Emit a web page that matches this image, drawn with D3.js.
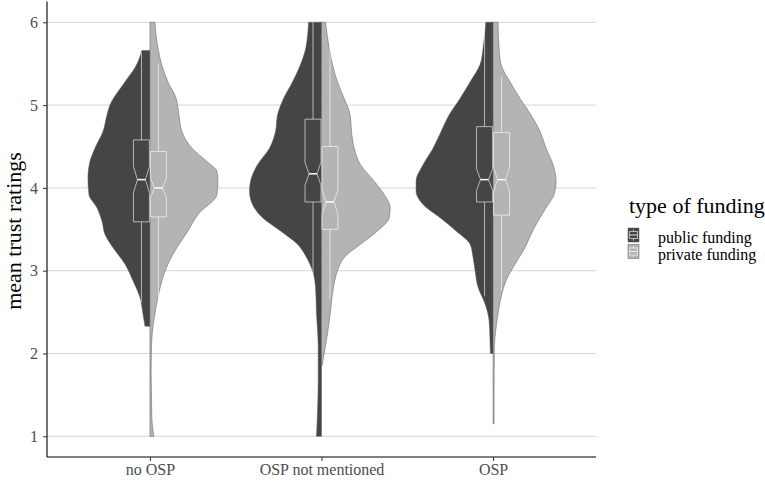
<!DOCTYPE html>
<html>
<head>
<meta charset="utf-8">
<script src="https://cdn.jsdelivr.net/npm/d3@7"></script>
<style>
body{margin:0;background:#fff}
text{font-family:"Liberation Serif","Times New Roman",serif}
</style>
</head>
<body>
<svg id="chart"></svg>
<script>
// categories and groups
var categories = ["no OSP", "OSP not mentioned", "OSP"];
var fundingTypes = ["public funding", "private funding"];
var yTicks = [1, 2, 3, 4, 5, 6];

// violin half densities: [rating, density]
var noOspPublic = [[2.33,.05],[2.48,.07],[2.68,.10],[2.88,.17],[3.08,.25],[3.28,.37],[3.44,.45],[3.6,.48],[3.76,.53],[3.92,.61],[4.12,.62],[4.32,.60],[4.48,.55],[4.68,.47],[4.88,.43],[5.0,.40],[5.28,.25],[5.45,.15],[5.66,.08]];
var noOspPrivate = [[1.0,.04],[1.2,.02],[1.5,.015],[1.8,.012],[2.07,.015],[2.27,.025],[2.48,.05],[2.68,.08],[2.88,.12],[3.08,.18],[3.28,.27],[3.48,.38],[3.68,.48],[3.92,.67],[4.08,.68],[4.2,.67],[4.32,.57],[4.48,.42],[4.68,.32],[4.88,.29],[5.09,.26],[5.28,.18],[5.48,.12],[5.69,.08],[6.0,.05]];
var notMentionedPublic = [[1.0,.05],[1.3,.04],[1.68,.033],[2.08,.033],[2.48,.05],[2.8,.06],[3.0,.09],[3.16,.15],[3.32,.24],[3.48,.41],[3.64,.59],[3.8,.69],[3.96,.72],[4.08,.71],[4.28,.64],[4.48,.52],[4.68,.46],[4.88,.44],[5.08,.38],[5.28,.29],[5.49,.21],[5.69,.157],[6.0,.13]];
var notMentionedPrivate = [[1.85,.005],[2.0,.027],[2.24,.06],[2.48,.087],[2.8,.12],[3.0,.16],[3.16,.227],[3.32,.39],[3.48,.56],[3.64,.677],[3.76,.687],[3.92,.627],[4.08,.527],[4.28,.39],[4.48,.327],[4.68,.30],[4.88,.287],[5.08,.227],[5.28,.16],[5.49,.11],[5.69,.077],[6.0,.04]];
var ospPublic = [[2.0,.027],[2.24,.033],[2.4,.04],[2.6,.08],[2.8,.15],[3.0,.18],[3.16,.20],[3.32,.23],[3.48,.37],[3.64,.53],[3.8,.70],[3.96,.77],[4.08,.77],[4.28,.70],[4.48,.60],[4.68,.52],[4.88,.44],[5.08,.33],[5.28,.23],[5.49,.13],[5.69,.10],[6.0,.073]];
var ospPrivate = [[1.15,.01],[1.5,.01],[2.08,.013],[2.28,.027],[2.48,.05],[2.68,.08],[2.88,.13],[3.08,.22],[3.28,.32],[3.44,.38],[3.6,.45],[3.76,.53],[3.92,.61],[4.08,.63],[4.28,.60],[4.48,.53],[4.68,.47],[4.88,.38],[5.08,.27],[5.28,.17],[5.49,.08],[5.69,.06],[6.0,.05]];

// boxplot stats: [lower whisker, q1, median, q3, upper whisker, notch half-height]
var noOspBoxes = [[2.62,3.59,4.10,4.58,5.63,.16],[2.63,3.65,4.00,4.44,5.49,.12]];
var notMentionedBoxes = [[2.9,3.83,4.17,4.83,6.0,.14],[2.65,3.5,3.83,4.5,6.0,.15]];
var ospBoxes = [[2.69,3.83,4.10,4.74,6.0,.13],[2.76,3.67,4.10,4.67,5.34,.15]];

var violins = [[noOspPublic, noOspPrivate], [notMentionedPublic, notMentionedPrivate], [ospPublic, ospPrivate]];
var boxes = [noOspBoxes, notMentionedBoxes, ospBoxes];

var fills = ["#444546", "#b4b4b4"];

var svg = d3.select("#chart").attr("width", 765).attr("height", 483);

var panel = {left: 47, right: 596, top: 1.6, bottom: 457};

var xScale = d3.scalePoint()
    .domain(categories)
    .range([panel.left, panel.right])
    .padding(0.6);

var yScale = d3.scaleLinear()
    .domain([0.75, 6.25])
    .range([panel.bottom, panel.top]);

var wScale = d3.scaleLinear().domain([0, 1]).range([0, 100]);

var dodge = d3.scaleBand().domain(fundingTypes).range([-17, 17]);

// grid
svg.append("g").selectAll("line")
    .data(yTicks).enter().append("line")
    .attr("x1", panel.left).attr("x2", panel.right)
    .attr("y1", function(d){ return yScale(d); })
    .attr("y2", function(d){ return yScale(d); })
    .attr("stroke", "#d6d6d6").attr("stroke-width", 1);

// violins
var plot = svg.append("g");
categories.forEach(function(cat, i)
{
    var cx = xScale(cat);
    violins[i].forEach(function(dens, j)
    {
        var side = j === 0 ? -1 : 1;
        var area = d3.area()
            .y(function(d){ return yScale(d[0]); })
            .x0(cx)
            .x1(function(d){ return cx + side * wScale(d[1]); })
            .curve(d3.curveMonotoneY);
        plot.append("path")
            .datum(dens)
            .attr("d", area)
            .attr("fill", fills[j])
            .attr("stroke", "#5a5a5a")
            .attr("stroke-width", 0.5);
    });
});

// notched boxplots
categories.forEach(function(cat, i)
{
    boxes[i].forEach(function(b, j)
    {
        var bw = dodge.bandwidth() * 0.94;
        var bx = xScale(cat) + dodge(fundingTypes[j]) + dodge.bandwidth() / 2;
        var x0 = bx - bw / 2, x1 = bx + bw / 2, inset = bw * 0.25;
        var g = plot.append("g");
        g.append("line")
            .attr("x1", bx).attr("x2", bx)
            .attr("y1", yScale(b[4])).attr("y2", yScale(b[3]))
            .attr("stroke", "white").attr("stroke-opacity", 0.6);
        g.append("line")
            .attr("x1", bx).attr("x2", bx)
            .attr("y1", yScale(b[1])).attr("y2", yScale(b[0]))
            .attr("stroke", "white").attr("stroke-opacity", 0.6);
        var pts = [
            [x0, yScale(b[3])], [x1, yScale(b[3])],
            [x1, yScale(b[2] + b[5])], [x1 - inset, yScale(b[2])], [x1, yScale(b[2] - b[5])],
            [x1, yScale(b[1])], [x0, yScale(b[1])],
            [x0, yScale(b[2] - b[5])], [x0 + inset, yScale(b[2])], [x0, yScale(b[2] + b[5])]
        ];
        g.append("path")
            .attr("d", d3.line()(pts) + "Z")
            .attr("fill", fills[j])
            .attr("stroke", "white").attr("stroke-opacity", 0.6);
        g.append("line")
            .attr("x1", x0 + inset).attr("x2", x1 - inset)
            .attr("y1", yScale(b[2])).attr("y2", yScale(b[2]))
            .attr("stroke", "white").attr("stroke-width", 1.5);
    });
});

// axes
var yAxis = svg.append("g")
    .attr("transform", "translate(" + panel.left + ",0)")
    .call(d3.axisLeft(yScale).tickValues(yTicks).tickFormat(d3.format("d")).tickSize(4).tickPadding(5));
var xAxis = svg.append("g")
    .attr("transform", "translate(0," + panel.bottom + ")")
    .call(d3.axisBottom(xScale).tickSize(4).tickPadding(3));

[yAxis, xAxis].forEach(function(ax)
{
    ax.attr("font-family", "Liberation Serif").attr("font-size", 16);
    ax.select(".domain").attr("stroke", "#000").attr("stroke-width", 1.1);
    ax.selectAll(".tick line").attr("stroke", "#333");
    ax.selectAll(".tick text").attr("fill", "#4d4d4d");
});
yAxis.select(".domain").attr("d", "M0," + panel.bottom + "V" + panel.top);
xAxis.select(".domain").attr("d", "M" + panel.left + ",0H" + panel.right);

// y title
svg.append("text")
    .attr("transform", "translate(21,231) rotate(-90)")
    .attr("text-anchor", "middle")
    .style("font-size", "22px")
    .text("mean trust ratings");

// legend
var legend = svg.append("g");
legend.append("text")
    .attr("x", 629).attr("y", 213)
    .style("font-size", "22px")
    .text("type of funding");

fundingTypes.forEach(function(name, j)
{
    var ky = 228 + j * 16.5;
    var kx = 628;
    var k = legend.append("g");
    k.append("rect")
        .attr("x", kx).attr("y", ky).attr("width", 11).attr("height", 14)
        .attr("fill", fills[j]).attr("stroke", "#5a5a5a").attr("stroke-width", 0.5);
    k.append("line")
        .attr("x1", kx + 5.5).attr("x2", kx + 5.5).attr("y1", ky + 1.4).attr("y2", ky + 12.6)
        .attr("stroke", "white").attr("stroke-opacity", 0.6);
    k.append("rect")
        .attr("x", kx + 1.5).attr("y", ky + 3.5).attr("width", 8).attr("height", 7)
        .attr("fill", fills[j]).attr("stroke", "white").attr("stroke-opacity", 0.6);
    k.append("line")
        .attr("x1", kx + 1.5).attr("x2", kx + 9.5).attr("y1", ky + 7).attr("y2", ky + 7)
        .attr("stroke", "white").attr("stroke-opacity", 0.8);
    legend.append("text")
        .attr("x", 658).attr("y", ky + 15)
        .style("font-size", "16px")
        .text(name);
});
</script>
</body>
</html>
